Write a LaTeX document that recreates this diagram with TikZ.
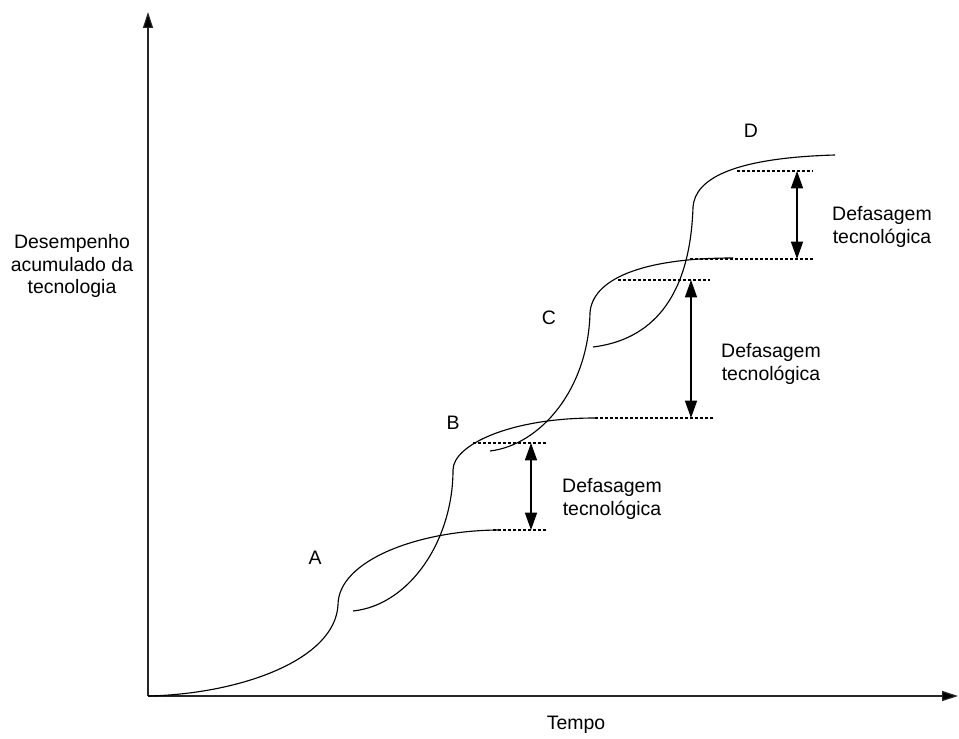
\documentclass[tikz,border=0pt]{standalone}
\usepackage{fontspec}
\setmainfont{Liberation Sans}
\usetikzlibrary{arrows.meta}

\begin{document}
\begin{tikzpicture}[x=0.75pt,y=0.75pt,yscale=-1,xscale=1,
  lbl/.style={inner sep=0.75pt, font=\fontsize{14.6}{16.8}\selectfont, align=center},
  curve/.style={line width=0.85pt},
  level/.style={line width=1pt, dash pattern=on 2.25pt off 1.5pt},
  gap/.style={line width=1.1pt, {Triangle[length=13pt,width=9pt]}-{Triangle[length=13pt,width=9pt]}},
  axis/.style={line width=0.9pt, draw=black!85, -{Triangle[length=12pt,width=7.5pt,fill=black]}}]
\path[use as bounding box] (0,0) rectangle (959,738);
%Axes
\coordinate (O) at (148,696);
\coordinate (ytip) at (148,12);
\coordinate (xtip) at (958,696);
\draw[axis] (O) -- (ytip);
\draw[axis] (O) -- (xtip);
%Curve A
\draw[curve] (O) .. controls (240,694) and (335,660) .. (338,605) .. controls (338,560) and (420,530) .. (500,530) ;
%Curve B
\draw[curve] (353,611) .. controls (410,605) and (453,540) .. (453,470) .. controls (453,445) and (510,418) .. (595,418) ;
%Curve C
\draw[curve] (490,451) .. controls (540,445) and (588,390) .. (590,313) .. controls (592,280) and (640,258) .. (733,258) ;
%Curve D
\draw[curve] (593,347) .. controls (650,340) and (690,300) .. (693,207) .. controls (695,180) and (730,158) .. (835,155) ;
%Straight Lines
\coordinate (a1) at (493,530); \coordinate (a2) at (547,530);
\coordinate (b1) at (473,443); \coordinate (b2) at (548,443);
\coordinate (b3) at (595,418); \coordinate (b4) at (713,418);
\coordinate (c1) at (618,280); \coordinate (c2) at (710,280);
\coordinate (c3) at (690,259); \coordinate (c4) at (815,259);
\coordinate (d1) at (737,171); \coordinate (d2) at (813,171);
\draw[level] (a1) -- (a2) ;
\draw[level] (b1) -- (b2) ;
\draw[level] (b3) -- (b4) ;
\draw[level] (c1) -- (c2) ;
\draw[level] (c3) -- (c4) ;
\draw[level] (d1) -- (d2) ;
%Gap arrows
\coordinate (g1t) at (531,443); \coordinate (g1b) at (531,530);
\coordinate (g2t) at (691,280); \coordinate (g2b) at (691,418);
\coordinate (g3t) at (797,171); \coordinate (g3b) at (797,259);
\draw[gap] (g1t) -- (g1b) ;
\draw[gap] (g2t) -- (g2b) ;
\draw[gap] (g3t) -- (g3b) ;
% Text Node
\node[lbl] (ylabel) at (72,266) {Desempenho\\acumulado da\\tecnologia};
% Text Node
\node[lbl] (xlabel) at (576,725) {Tempo};
% Text Node
\node[lbl] (labA) at (315,558) {A};
\node[lbl] (labB) at (453,423) {B};
\node[lbl] (labC) at (549,318) {C};
\node[lbl] (labD) at (751,131) {D};
% Text Node
\node[lbl] (gap1) at (612,499) {Defasagem\\tecnológica};
\node[lbl] (gap2) at (771,364) {Defasagem\\tecnológica};
\node[lbl] (gap3) at (882,227) {Defasagem\\tecnológica};
\end{tikzpicture}
\end{document}
